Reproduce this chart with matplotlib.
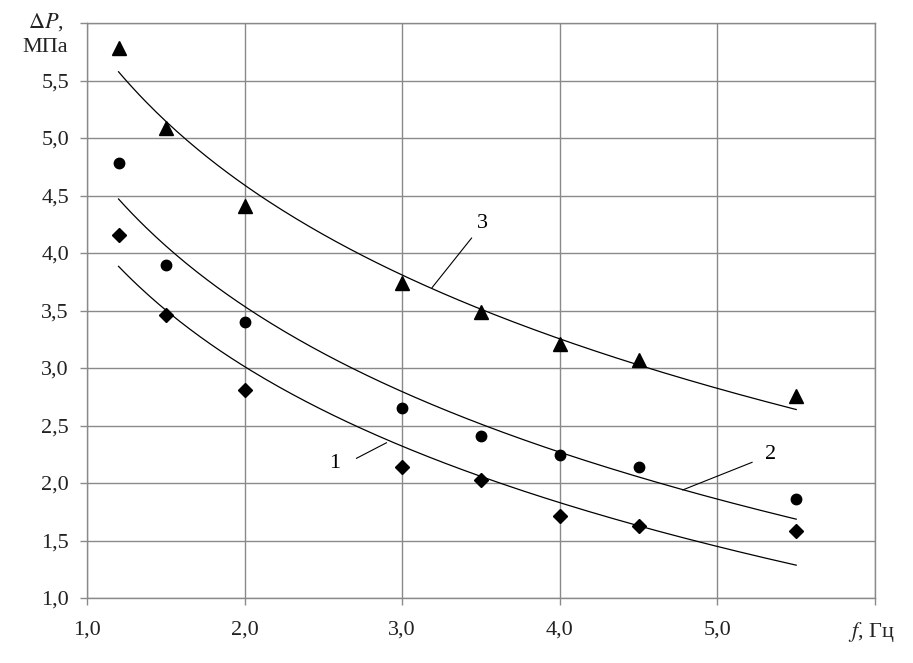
import numpy as np
import matplotlib
matplotlib.use("Agg")
import matplotlib.pyplot as plt
from matplotlib.ticker import FuncFormatter, MultipleLocator

# frequency, Hz
f_vals = [1.2, 1.5, 2.0, 3.0, 3.5, 4.0, 4.5, 5.5]
# pressure drop, MPa (curves 1, 2, 3)
dp_1 = [4.16, 3.46, 2.81, 2.14, 2.03, 1.71, 1.63, 1.58]
dp_2 = [4.78, 3.90, 3.40, 2.65, 2.41, 2.24, 2.14, 1.86]
dp_3 = [5.78, 5.09, 4.41, 3.74, 3.49, 3.21, 3.07, 2.76]
markers = ['D', 'o', '^']
marker_sizes = [7.5, 7.5, 10]

plt.rcParams['font.family'] = ['Liberation Serif', 'DejaVu Serif']
plt.rcParams['mathtext.fontset'] = 'stix'

fig = plt.figure(figsize=(9.13, 6.63), dpi=100)
ax = fig.add_axes([0.0953, 0.098, 0.8631, 0.8673])

x = np.array(f_vals)
xs = np.linspace(1.2, 5.5, 200)
for ys, m, ms in zip([dp_1, dp_2, dp_3], markers, marker_sizes):
    ax.plot(x, ys, linestyle='none', marker=m, color='black', markersize=ms, zorder=3)
    # logarithmic trend line, like the spreadsheet one
    k, b = np.polyfit(np.log(x), np.array(ys), 1)
    ax.plot(xs, k * np.log(xs) + b, color='black', linewidth=0.9, zorder=2)

ax.set_xlim(1.0, 6.0)
ax.set_ylim(1.0, 6.0)
ax.xaxis.set_major_locator(MultipleLocator(1.0))
ax.yaxis.set_major_locator(MultipleLocator(0.5))

def fmt(v, pos):
    if v > 5.9:
        return ''
    return f'{v:.1f}'.replace('.', ',')

ax.xaxis.set_major_formatter(FuncFormatter(fmt))
ax.yaxis.set_major_formatter(FuncFormatter(fmt))

ax.grid(True, color='#8a8a8a', linewidth=1.0)
for s in ax.spines.values():
    s.set_color('#8a8a8a')
    s.set_linewidth(1.0)
ax.tick_params(axis='both', colors='#8a8a8a', length=5, width=1.0,
               labelcolor='#222222', labelsize=16)
ax.tick_params(axis='x', pad=11)
ax.tick_params(axis='y', pad=8)

# axis captions
fig.text(0.070, 0.967, r'$\Delta P$,', ha='right', va='center',
         fontsize=16, color='#222222')
fig.text(0.0745, 0.929, 'МПа', ha='right', va='center', fontsize=16, color='#222222')
fig.text(0.929, 0.047, r'$f$, Гц', ha='left', va='center', fontsize=16,
         color='#222222')

# curve numbers with leader lines
ax.plot([3.44, 3.19], [4.13, 3.70], color='black', linewidth=0.8)
ax.text(3.51, 4.26, '3', ha='center', va='center', fontsize=16)
ax.plot([2.71, 2.90], [2.215, 2.35], color='black', linewidth=0.8)
ax.text(2.57, 2.17, '1', ha='center', va='center', fontsize=16)
ax.plot([5.22, 4.78], [2.18, 1.94], color='black', linewidth=0.8)
ax.text(5.34, 2.25, '2', ha='center', va='center', fontsize=16)

fig.savefig('out.png', dpi=100)
